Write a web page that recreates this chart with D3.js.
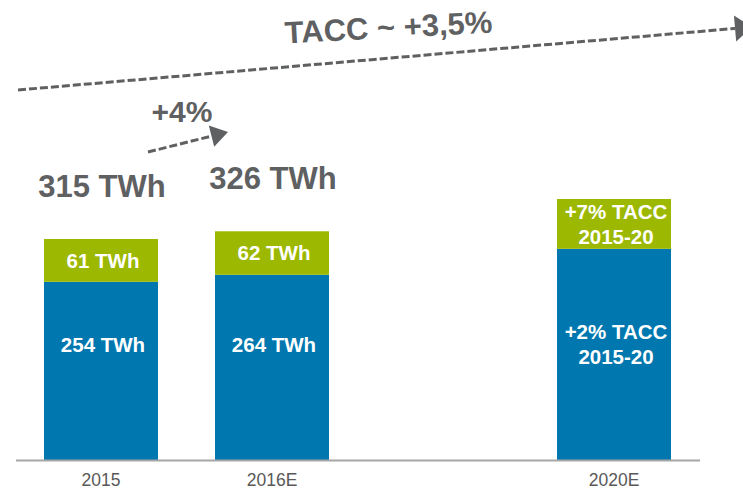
<!DOCTYPE html>
<html>
<head>
<meta charset="utf-8">
<script src="https://cdn.jsdelivr.net/npm/d3@7"></script>
<style>
  html, body { margin: 0; padding: 0; background: #ffffff; }
  svg { display: block; }
  text { font-family: "Liberation Sans", Arial, Helvetica, sans-serif; }
</style>
</head>
<body>
<div id="chart"></div>
<script>
// ---- data ----
const categories = ["2015", "2016E", "2020E"];
const slots = ["2015", "2016E", "_gap", "2020E"];
const baseValues = [254, 264, 301];
const topValues = [61, 62, 71];
const baseLabels = [["254 TWh"], ["264 TWh"], ["+2% TACC", "2015-20"]];
const topLabels = [["61 TWh"], ["62 TWh"], ["+7% TACC", "2015-20"]];
const totalLabels = ["315 TWh", "326 TWh", null];
const growthShort = "+4%";
const growthLong = "TACC ~ +3,5%";

// ---- layout ----
const W = 743, H = 491;
const blue = "#0077AE", green = "#9CB800", gray = "#5F6062", axisGray = "#A6A6A6";

const svg = d3.select("#chart").append("svg").attr("width", W).attr("height", H);

const x = d3.scaleBand().domain(slots).range([15.5, 699.5]).paddingInner(1 / 3).paddingOuter(1 / 6);
const y = d3.scaleLinear().domain([0, 315]).range([460, 239]);

const data = categories.map((c, i) => ({
  cat: c, base: baseValues[i], top: topValues[i],
  baseLabel: baseLabels[i], topLabel: topLabels[i], total: totalLabels[i]
}));

// bars
const g = svg.append("g");
g.selectAll("rect.base").data(data).join("rect")
  .attr("class", "base")
  .attr("x", d => x(d.cat)).attr("width", x.bandwidth())
  .attr("y", d => y(d.base)).attr("height", d => y(0) - y(d.base))
  .attr("fill", blue);
g.selectAll("rect.top").data(data).join("rect")
  .attr("class", "top")
  .attr("x", d => x(d.cat)).attr("width", x.bandwidth())
  .attr("y", d => y(d.base + d.top)).attr("height", d => y(d.base) - y(d.base + d.top))
  .attr("fill", green);

// axis
const axis = d3.axisBottom(x).tickValues(categories).tickSize(0).tickPadding(14);
const ax = svg.append("g").attr("transform", `translate(0,${y(0)})`).call(axis);
ax.select(".domain").attr("stroke", axisGray).attr("stroke-width", 2);
ax.selectAll(".tick text").attr("font-size", 17.5).attr("fill", "#595959")
  .attr("font-family", "'Liberation Sans', Arial, sans-serif");

// in-bar labels
function multiLine(sel, lines, cx, cy, lh) {
  const n = lines.length;
  lines.forEach((t, k) => {
    sel.append("text")
      .attr("x", cx).attr("y", cy + (k - (n - 1) / 2) * lh)
      .attr("dy", "0.36em")
      .attr("text-anchor", "middle")
      .attr("font-size", 20.5).attr("font-weight", "bold")
      .attr("fill", "#ffffff").text(t);
  });
}
data.forEach(d => {
  const cx = x(d.cat) + x.bandwidth() / 2 + 2;
  multiLine(g, d.topLabel, cx, (y(d.base) + y(d.base + d.top)) / 2, 25);
  multiLine(g, d.baseLabel, cx, y(165), 25);
  if (d.total) {
    g.append("text")
      .attr("x", cx - 1).attr("y", y(d.base + d.top) - 42)
      .attr("text-anchor", "middle")
      .attr("font-size", 31).attr("font-weight", "bold")
      .attr("fill", gray).text(d.total);
  }
});

// dashed arrows
function arrow(x1, y1, x2, y2, headLen, headHalf) {
  const ang = Math.atan2(y2 - y1, x2 - x1);
  const bx = x2 - headLen * Math.cos(ang), by = y2 - headLen * Math.sin(ang);
  svg.append("line")
    .attr("x1", x1).attr("y1", y1).attr("x2", bx).attr("y2", by)
    .attr("stroke", gray).attr("stroke-width", 3)
    .attr("stroke-dasharray", "8,3");
  const px = -Math.sin(ang) * headHalf, py = Math.cos(ang) * headHalf;
  svg.append("path")
    .attr("d", `M${x2},${y2}L${bx + px},${by + py}L${bx - px},${by - py}Z`)
    .attr("fill", gray);
}
arrow(18, 90, 752, 27, 17, 13);
arrow(148, 152, 228, 132, 17, 11);

// growth labels
svg.append("text")
  .attr("transform", "translate(389,38) rotate(-3)")
  .attr("text-anchor", "middle")
  .attr("font-size", 31).attr("font-weight", "bold")
  .attr("fill", gray).text(growthLong);
svg.append("text")
  .attr("x", 182).attr("y", 122)
  .attr("text-anchor", "middle")
  .attr("font-size", 30).attr("font-weight", "bold")
  .attr("fill", gray).text(growthShort);
</script>
</body>
</html>
